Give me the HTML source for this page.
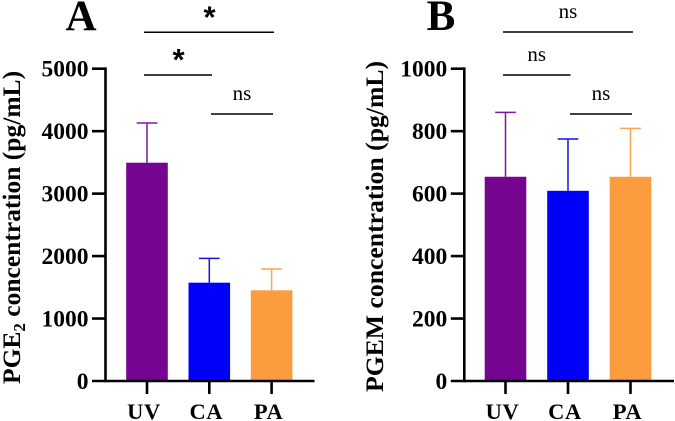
<!DOCTYPE html>
<html>
<head>
<meta charset="utf-8">
<title>PGE2 and PGEM concentration</title>
<style>
html,body{margin:0;padding:0;background:#fff;width:675px;height:421px;overflow:hidden}
svg{display:block}
text{font-family:"Liberation Serif",serif;fill:#000}
.b{font-weight:bold}
</style>
</head>
<body>
<svg id="fig" width="675" height="421" viewBox="0 0 675 421" xmlns="http://www.w3.org/2000/svg"></svg>
<script>
const categories = ["UV", "CA", "PA"];
const barColors = ["#750590", "#0000fb", "#fd9c3e"];
const errColorsA = ["#7a1a9a", "#1414e0", "#fca253"];
const pgeMeans = [3495, 1574, 1452];
const pgeErrTops = [4130, 1964, 1793];
const pgemMeans = [654, 609, 654];
const pgemErrTops = [860, 775, 809];
const pgeTicks = [0, 1000, 2000, 3000, 4000, 5000];
const pgemTicks = [0, 200, 400, 600, 800, 1000];

const NS = "http://www.w3.org/2000/svg";
const svg = document.getElementById("fig");
function mk(tag, attrs, parent, txt) {
  const e = document.createElementNS(NS, tag);
  for (const k in attrs) e.setAttribute(k, attrs[k]);
  if (txt !== undefined) e.textContent = txt;
  (parent || svg).appendChild(e);
  return e;
}
function seg(x1, y1, x2, y2, stroke, w, parent) {
  return mk("line", {x1: x1, y1: y1, x2: x2, y2: y2, stroke: stroke, "stroke-width": w}, parent);
}

function panel(cfg) {
  const g = mk("g", {});
  
  
  const y = v => cfg.y0 - (v / cfg.max) * (cfg.y0 - cfg.yTop);
  const x = i => cfg.xFirst + i * cfg.step;

  cfg.means.forEach((m, i) => {
    const cx = x(i);
    const eg = mk("g", {}, g);
    
    
    seg(cx, y(m), cx, y(cfg.errs[i]), errColorsA[i], 1.5, eg);
    seg(cx - 10.3, y(cfg.errs[i]), cx + 10.3, y(cfg.errs[i]), errColorsA[i], 1.5, eg);
    const r = mk("rect", {x: cx - 20.8, y: y(m), width: 41.6, height: cfg.y0 - y(m), fill: barColors[i]}, g);
    
    
    const t = seg(cx, cfg.y0, cx, cfg.y0 + 13, "#000", 2.6, g);
    
    
    const l = mk("text", {x: cx - 3, y: 419, "text-anchor": "middle", "font-size": 22.5, "class": "b", "letter-spacing": "0.6"}, g, categories[i]);
    
    
  });

  const ya = seg(cfg.xAxis, cfg.yTop - 1.3, cfg.xAxis, cfg.y0 + 1.3, "#000", 2.6, g);
  
  
  const xa = seg(cfg.xAxis - 13.5, cfg.y0, cfg.xEnd, cfg.y0, "#000", 2.6, g);
  
  

  cfg.ticks.forEach(v => {
    if (v !== 0) {
      const t = seg(cfg.xAxis - 13.5, y(v), cfg.xAxis, y(v), "#000", 2.6, g);
      
      
    }
    const l = mk("text", {x: cfg.xAxis - 17, y: y(v) + 8, "text-anchor": "end", "font-size": 23.5, "class": "b"}, g, String(v));
    
    
  });

  const title = mk("text", {transform: "translate(" + cfg.titleX + "," + cfg.titleY + ") rotate(-90)", "font-size": cfg.titleSize, "class": "b"}, g);
  
  
  mk("tspan", {}, title, cfg.titleA);
  if (cfg.titleSub) {
    mk("tspan", {dy: 5, "font-size": 17}, title, cfg.titleSub);
    mk("tspan", {dy: -5}, title, cfg.titleB);
  }

  const letter = mk("text", {x: cfg.letterX, y: 30, "text-anchor": "middle", "font-size": 43, "class": "b"}, g, cfg.letter);
  
  

  cfg.brackets.forEach(b => {
    const l = seg(b[0], b[2], b[1], b[2], "#000", 1.5, g);
    
    
    const star = b[3] === "*";
    const t = mk("text", {x: (b[0] + b[1]) / 2 + (star ? 0.5 : 0), y: b[2] + (star ? -5 : -14), "text-anchor": "middle", "font-size": star ? 31 : 21, "class": star ? "b" : ""}, g, b[3]);
    if (star) t.setAttribute("style", "font-family:'Liberation Sans',sans-serif");
    
    
  });
}

panel({
  name: "panel-a-pge2", letter: "A", letterX: 81,
  y0: 381, yTop: 68.7, max: 5000, xAxis: 105.5, xEnd: 314.5, xFirst: 147, step: 62.3,
  means: pgeMeans, errs: pgeErrTops, ticks: pgeTicks,
  titleX: 20, titleY: 384, titleSize: 25.5,
  titleA: "PGE", titleSub: "2", titleB: " concentration (pg/mL)",
  brackets: [[144, 274, 32.3, "*"], [144, 212, 75, "*"], [211, 273, 114, "ns"]]
});
panel({
  name: "panel-b-pgem", letter: "B", letterX: 441,
  y0: 381, yTop: 68.7, max: 1000, xAxis: 464.3, xEnd: 674, xFirst: 505.5, step: 62.5,
  means: pgemMeans, errs: pgemErrTops, ticks: pgemTicks,
  titleX: 383, titleY: 392, titleSize: 25.7,
  titleA: "PGEM concentration (pg/mL)",
  brackets: [[503, 633, 32, "ns"], [503, 570.5, 75, "ns"], [570, 632, 114, "ns"]]
});
</script>
</body>
</html>
